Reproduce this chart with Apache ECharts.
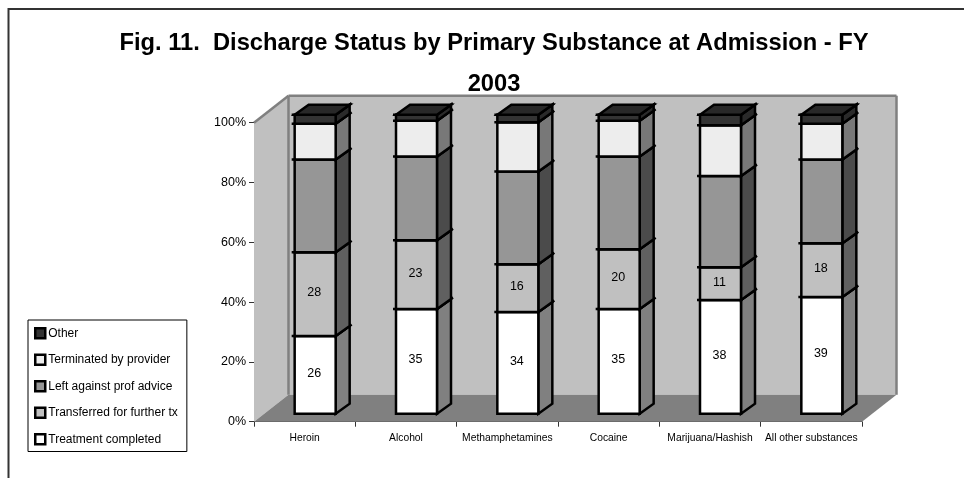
<!DOCTYPE html>
<html><head><meta charset="utf-8">
<style>html,body{margin:0;padding:0;background:#fff}#c{width:964px;height:478px}</style>
<script src="https://cdn.jsdelivr.net/npm/echarts@6/dist/echarts.min.js"></script>
</head><body><div id="c"></div>
<script>
const categories = ['Heroin','Alcohol','Methamphetamines','Cocaine','Marijuana/Hashish','All other substances'];
const treatmentCompleted = [26,35,34,35,38,39];
const transferred = [28,23,16,20,11,18];
const leftAgainstAdvice = [31,28,31,31,30.5,28];
const terminated = [12,12,16.5,12,17,12];
const other = [3,2,2.5,2,3.5,3];
const yTicks = {min:0,max:100,interval:20};

const segs = [
 {name:'Treatment completed',vals:treatmentCompleted,front:'#FFFFFF',side:'#808080',label:true},
 {name:'Transferred for further tx',vals:transferred,front:'#C0C0C0',side:'#606060',label:true},
 {name:'Left against prof advice',vals:leftAgainstAdvice,front:'#969696',side:'#4B4B4B'},
 {name:'Terminated by provider',vals:terminated,front:'#EDEDED',side:'#787878'},
 {name:'Other',vals:other,front:'#333333',side:'#2A2A2A',top:'#282828'}
];
const barW=41, shiftX=10.5, shiftY=-8, depX=14, depY=-10, wallX=34.5, wallY=-27;

function wallItem(p,api){
  const r=p.coordSys, x0=r.x, x1=r.x+r.width, y0=r.y, y1=r.y+r.height;
  const poly=(pts,fill)=>({type:'polygon',shape:{points:pts},style:{fill:fill,stroke:null}});
  const ln=(a,b)=>({type:'line',shape:{x1:a[0],y1:a[1],x2:b[0],y2:b[1]},style:{stroke:'#808080',lineWidth:2.5}});
  const bl=[x0+wallX,y1+wallY],tl=[x0+wallX,y0+wallY],tr=[x1+wallX,y0+wallY],br=[x1+wallX,y1+wallY];
  return {type:'group',silent:true,children:[
    poly([bl,tl,tr,br],'#C0C0C0'),
    poly([[x0,y1],[x0,y0],tl,bl],'#C0C0C0'),
    poly([[x0,y1],bl,br,[x1,y1]],'#808080'),
    ln([x0,y0],tl),ln(tl,tr),ln(tr,br),ln(tl,bl)
  ]};
}
function barItem(seg,isTop){
  return function(p,api){
    const i=api.value(0), lo=api.value(1), hi=api.value(2);
    const a=api.coord([i,lo]), b=api.coord([i,hi]);
    const xl=a[0]+shiftX-barW/2, xr=xl+barW, yb=a[1]+shiftY, yt=b[1]+shiftY;
    const blk={stroke:'#000',lineWidth:2.5,lineJoin:'miter'};
    const kids=[
      {type:'polygon',shape:{points:[[xr,yb],[xr+depX,yb+depY],[xr+depX,yt+depY],[xr,yt]]},style:Object.assign({fill:seg.side},blk)},
      {type:'rect',shape:{x:xl,y:yt,width:barW,height:yb-yt},style:Object.assign({fill:seg.front},blk)},
      {type:'polyline',shape:{points:[[xl-3,yt],[xr,yt],[xr+depX+2,yt+depY-1.5]]},style:{stroke:'#000',lineWidth:2.5,fill:null}}
    ];
    if(isTop){
      kids.push({type:'polygon',shape:{points:[[xl,yt],[xl+depX,yt+depY],[xr+depX,yt+depY],[xr,yt]]},style:Object.assign({fill:seg.top},blk)});
    }
    if(seg.label){
      kids.push({type:'text',style:{text:String(seg.vals[i]),x:(xl+xr)/2-1,y:(yt+yb)/2-1.5,align:'center',verticalAlign:'middle',
        font:'12.5px "Liberation Sans"',fill:'#000'}});
    }
    return {type:'group',children:kids};
  };
}
const cum=categories.map(()=>0);
const barSeries=segs.map((s,k)=>{
  const data=categories.map((c,i)=>{const lo=cum[i];cum[i]+=s.vals[i];return [i,lo,cum[i]];});
  return {name:s.name,type:'custom',z:5+k,clip:false,silent:true,itemStyle:{color:s.front},
    renderItem:barItem(s,k===segs.length-1),encode:{x:0,y:[1,2]},data:data};
});
const chart=echarts.init(document.getElementById('c'),null,{renderer:'canvas'});
chart.setOption({
  animation:false,
  backgroundColor:'#fff',
  textStyle:{fontFamily:'"Liberation Sans"'},
  title:{text:'Fig. 11.  Discharge Status by Primary Substance at Admission - FY\n2003',left:489,textAlign:'center',top:18,
    textStyle:{fontFamily:'"Liberation Sans"',fontWeight:'bold',fontSize:23.7,lineHeight:41,color:'#000'}},
  legend:{orient:'vertical',left:28,top:320,padding:[7,9,6,6],itemGap:14,itemWidth:10,itemHeight:10,borderColor:'#000',borderWidth:1,
    backgroundColor:'#fff',selectedMode:false,icon:'rect',
    textStyle:{fontFamily:'"Liberation Sans"',fontSize:12,color:'#000',padding:[0,0,0,-2]},
    data:segs.slice().reverse().map(s=>({name:s.name,itemStyle:{color:s.front,borderColor:'#000',borderWidth:2.5}}))},
  grid:{left:254,top:122.7,width:608,height:299},
  xAxis:{type:'category',data:categories,axisLine:{lineStyle:{color:'#333',width:1}},axisTick:{show:true,length:5,lineStyle:{color:'#333'}},
    axisLabel:{fontSize:10.3,color:'#000',margin:11,interval:0,fontFamily:'"Liberation Sans"'},splitLine:{show:false}},
  yAxis:{type:'value',min:yTicks.min,max:yTicks.max,interval:yTicks.interval,axisLine:{show:true,lineStyle:{color:'#333',width:1}},
    axisTick:{show:true,length:5,lineStyle:{color:'#333'}},splitLine:{show:false},
    axisLabel:{formatter:'{value}%',fontSize:12.5,color:'#000',margin:8,fontFamily:'"Liberation Sans"'}},
  graphic:[{type:'polyline',shape:{points:[[8.5,478],[8.5,9],[964,9]]},style:{stroke:'#333',lineWidth:2,fill:null},z:1}],
  series:[{type:'custom',z:1,silent:true,clip:false,renderItem:wallItem,data:[[0,0]],encode:{x:0,y:1}}].concat(barSeries)
});
</script></body></html>
